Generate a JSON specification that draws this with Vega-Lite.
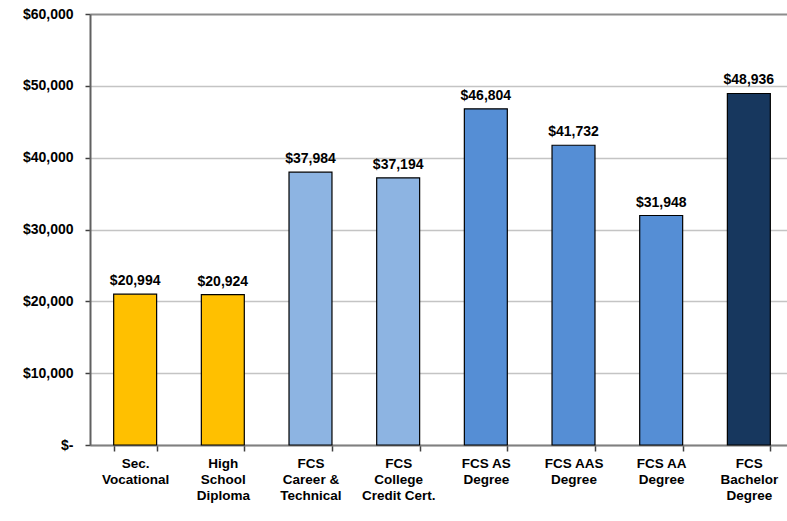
{
  "$schema": "https://vega.github.io/schema/vega-lite/v6.json",
  "autosize": {"type": "none"},
  "width": 697,
  "height": 431,
  "padding": {"left": 90, "top": 14, "right": 0, "bottom": 76},
  "background": "white",
  "config": {"view": {"stroke": null}, "font": "Liberation Sans"},
  "data": {
    "values": [
      {"cat": "Sec.|Vocational", "value": 20994, "group": "secondary"},
      {"cat": "High|School|Diploma", "value": 20924, "group": "secondary"},
      {"cat": "FCS|Career &|Technical", "value": 37984, "group": "certificate"},
      {"cat": "FCS|College|Credit Cert.", "value": 37194, "group": "certificate"},
      {"cat": "FCS AS|Degree", "value": 46804, "group": "associate"},
      {"cat": "FCS AAS|Degree", "value": 41732, "group": "associate"},
      {"cat": "FCS AA|Degree", "value": 31948, "group": "associate"},
      {"cat": "FCS|Bachelor|Degree", "value": 48936, "group": "bachelor"}
    ]
  },
  "encoding": {
    "x": {
      "field": "cat",
      "type": "nominal",
      "sort": null,
      "scale": {"range": [0, 704], "paddingInner": 0.51, "paddingOuter": 0.27},
      "axis": {
        "title": null,
        "labelAngle": 0,
        "labelExpr": "split(datum.label, '|')",
        "labelFont": "Liberation Sans",
        "labelFontWeight": "bold",
        "labelFontSize": 13.5,
        "labelLineHeight": 16,
        "labelColor": "#000000",
        "labelPadding": 5,
        "labelBaseline": "top",
        "labelLimit": 200,
        "tickBand": "extent",
        "tickSize": 6,
        "tickColor": "#404040",
        "tickWidth": 1.5,
        "domainColor": "#808080",
        "domainWidth": 2,
        "grid": false
      }
    },
    "y": {
      "field": "value",
      "type": "quantitative",
      "scale": {"domain": [0, 60000], "nice": false},
      "axis": {
        "title": null,
        "values": [0, 10000, 20000, 30000, 40000, 50000, 60000],
        "labelExpr": "datum.value == 0 ? '$-\u2007\u2007' : '$' + format(datum.value, ',')",
        "labelFont": "Liberation Sans",
        "labelFontWeight": "bold",
        "labelFontSize": 14,
        "labelColor": "#000000",
        "labelPadding": 12,
        "tickSize": 5,
        "tickColor": "#404040",
        "tickWidth": 1.5,
        "domainColor": "#606060",
        "domainWidth": 2,
        "grid": true,
        "gridColor": {"condition": {"test": "datum.value == 60000", "value": "#8c8c8c"}, "value": "#c4c4c4"},
        "gridWidth": {"condition": {"test": "datum.value == 60000", "value": 2}, "value": 1.5}
      }
    }
  },
  "layer": [
    {
      "mark": {"type": "bar", "stroke": "#000000", "strokeWidth": 1.2},
      "encoding": {
        "color": {
          "field": "group",
          "type": "nominal",
          "scale": {
            "domain": ["secondary", "certificate", "associate", "bachelor"],
            "range": ["#FFC000", "#8DB4E2", "#558ED5", "#17375E"]
          },
          "legend": null
        }
      }
    },
    {
      "mark": {"type": "text", "baseline": "bottom", "dy": -6, "font": "Liberation Sans", "fontWeight": "bold", "fontSize": 14, "color": "#000000"},
      "encoding": {
        "text": {"field": "value", "type": "quantitative", "format": "$,.0f"}
      }
    }
  ]
}
